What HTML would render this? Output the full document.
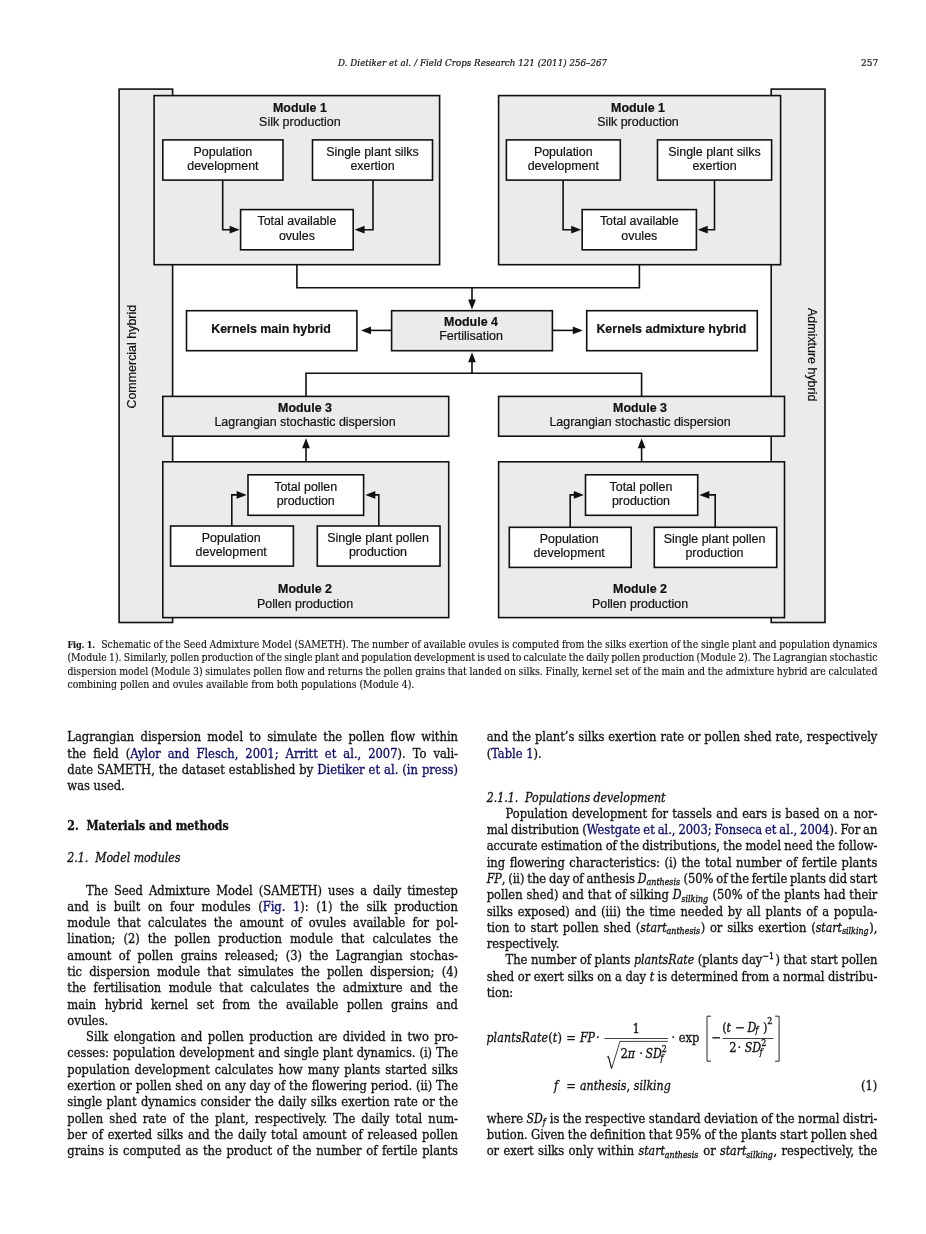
<!DOCTYPE html>
<html lang="en"><head><meta charset="utf-8"><title>Field Crops Research 121 (2011) 256-267, page 257</title>
<style>
html,body{margin:0;padding:0;background:#fff;}
body{will-change:transform;width:926px;height:1234px;position:relative;overflow:hidden;font-family:"DejaVu Serif Condensed","Liberation Serif",serif;color:#111;-webkit-text-stroke-width:0.3px;}
.l{position:absolute;white-space:nowrap;font-size:12.8px;line-height:16px;height:16px;}
.j{text-align:justify;text-align-last:justify;}
.c{-webkit-text-stroke-width:0.12px;position:absolute;white-space:nowrap;font-size:10.4px;line-height:13px;height:13px;left:67.4px;width:810px;}
.h{-webkit-text-stroke-width:0.2px;position:absolute;white-space:nowrap;font-size:10.15px;line-height:12px;height:12px;}
a{color:#0c0c6e;text-decoration:none;}
.fg{display:inline-block;width:33.8px;font-size:9.1px;letter-spacing:-0.15px;text-align:left;text-align-last:left;}
i{font-style:italic;font-size:95.5%;}
sub{font-size:72%;vertical-align:-0.28em;line-height:0;margin-right:0.6px;}
sup{font-size:70%;vertical-align:0.58em;line-height:0;margin-right:1.2px;}
svg{position:absolute;left:0;top:0;}
svg text{font-family:"Liberation Sans","DejaVu Sans",sans-serif;font-size:12.45px;fill:#111;text-anchor:middle;stroke:#111;stroke-width:0.2px;}
svg .b{font-weight:bold;}
.eq{position:absolute;white-space:nowrap;font-size:12.8px;line-height:16px;height:16px;}
</style></head><body>
<div class="h" style="left:338.1px;top:56.90px;width:269px;text-align:justify;text-align-last:justify;"><i>D. Dietiker et al. / Field Crops Research 121 (2011) 256–267</i></div>
<div class="h" style="left:860.6px;top:56.90px;width:17.6px;text-align:right;font-size:10px;">257</div>
<svg width="926" height="640" viewBox="0 0 926 640">
<g fill="#ebebeb" stroke="#111111" stroke-width="1.6">
<rect x="119.1" y="89.1" width="53.5" height="533.4"/>
<rect x="771.2" y="89.1" width="53.8" height="533.4"/>
<rect x="154.1" y="95.6" width="285.5" height="169.1"/>
<rect x="498.6" y="95.6" width="282.0" height="169.1"/>
<rect x="391.6" y="310.7" width="160.8" height="40.0"/>
<rect x="162.8" y="396.4" width="285.9" height="39.8"/>
<rect x="498.6" y="396.4" width="285.9" height="39.8"/>
<rect x="162.8" y="461.8" width="285.9" height="155.8"/>
<rect x="498.6" y="461.8" width="285.9" height="155.8"/>
<rect x="162.8" y="139.9" width="120.2" height="40.2" fill="#ffffff"/>
<rect x="312.5" y="139.9" width="120.0" height="40.2" fill="#ffffff"/>
<rect x="240.6" y="209.6" width="112.6" height="40.2" fill="#ffffff"/>
<rect x="506.4" y="139.9" width="113.9" height="40.2" fill="#ffffff"/>
<rect x="657.5" y="139.9" width="114.1" height="40.2" fill="#ffffff"/>
<rect x="582.2" y="209.6" width="114.2" height="40.2" fill="#ffffff"/>
<rect x="186.5" y="310.7" width="170.4" height="40.0" fill="#ffffff"/>
<rect x="586.7" y="310.7" width="170.6" height="40.0" fill="#ffffff"/>
<rect x="248.0" y="474.8" width="115.6" height="40.5" fill="#ffffff"/>
<rect x="170.6" y="526.0" width="122.8" height="40.1" fill="#ffffff"/>
<rect x="317.3" y="526.0" width="122.7" height="40.1" fill="#ffffff"/>
<rect x="585.5" y="474.8" width="112.2" height="40.5" fill="#ffffff"/>
<rect x="509.3" y="527.3" width="121.9" height="40.1" fill="#ffffff"/>
<rect x="654.3" y="527.3" width="122.4" height="40.1" fill="#ffffff"/>
</g>
<g fill="none" stroke="#111111" stroke-width="1.6">
<polyline points="296.9,264.7 296.9,287.7 639.4,287.7 639.4,264.7"/>
<polyline points="472.0,287.7 472.0,302.0"/>
<polyline points="306.0,396.4 306.0,373.3 641.6,373.3 641.6,396.4"/>
<polyline points="472.0,373.3 472.0,360.0"/>
<polyline points="391.6,330.4 369.0,330.4"/>
<polyline points="552.4,330.4 575.0,330.4"/>
<polyline points="306.0,461.8 306.0,446.0"/>
<polyline points="641.6,461.8 641.6,446.0"/>
<polyline points="222.7,180.1 222.7,229.7 232.0,229.7"/>
<polyline points="373.0,180.1 373.0,229.7 362.0,229.7"/>
<polyline points="563.1,180.1 563.1,229.7 573.0,229.7"/>
<polyline points="714.5,180.1 714.5,229.7 705.0,229.7"/>
<polyline points="231.8,526.0 231.8,494.9 239.0,494.9"/>
<polyline points="378.8,526.0 378.8,494.9 373.0,494.9"/>
<polyline points="570.2,527.3 570.2,494.9 576.0,494.9"/>
<polyline points="715.2,527.3 715.2,494.9 707.0,494.9"/>
</g>
<g fill="#111111" stroke="none">
<polygon points="472.0,309.4 468.1,299.4 475.9,299.4"/>
<polygon points="472.0,352.3 468.1,362.3 475.9,362.3"/>
<polygon points="361.0,330.4 371.0,326.5 371.0,334.2"/>
<polygon points="582.8,330.4 572.8,326.5 572.8,334.2"/>
<polygon points="306.0,438.2 302.1,448.2 309.9,448.2"/>
<polygon points="641.6,438.2 637.8,448.2 645.5,448.2"/>
<polygon points="239.6,229.7 229.6,225.8 229.6,233.5"/>
<polygon points="354.6,229.7 364.6,225.8 364.6,233.5"/>
<polygon points="581.2,229.7 571.2,225.8 571.2,233.5"/>
<polygon points="697.7,229.7 707.7,225.8 707.7,233.5"/>
<polygon points="246.7,494.9 236.7,491.0 236.7,498.8"/>
<polygon points="365.3,494.9 375.3,491.0 375.3,498.8"/>
<polygon points="583.8,494.9 573.8,491.0 573.8,498.8"/>
<polygon points="699.3,494.9 709.3,491.0 709.3,498.8"/>
</g>
<text x="299.9" y="112.05" class="b">Module 1</text>
<text x="299.9" y="126.05">Silk production</text>
<text x="638.0" y="112.05" class="b">Module 1</text>
<text x="638.0" y="126.05">Silk production</text>
<text x="222.9" y="155.85">Population</text>
<text x="222.9" y="170.05">development</text>
<text x="372.5" y="155.85">Single plant silks</text>
<text x="372.5" y="170.05">exertion</text>
<text x="296.9" y="225.45">Total available</text>
<text x="296.9" y="239.75">ovules</text>
<text x="563.3" y="155.85">Population</text>
<text x="563.3" y="170.05">development</text>
<text x="714.5" y="155.85">Single plant silks</text>
<text x="714.5" y="170.05">exertion</text>
<text x="639.3" y="225.45">Total available</text>
<text x="639.3" y="239.75">ovules</text>
<text x="271.0" y="333.35" class="b">Kernels main hybrid</text>
<text x="471.0" y="325.95" class="b">Module 4</text>
<text x="471.0" y="340.15">Fertilisation</text>
<text x="671.4" y="333.35" class="b">Kernels admixture hybrid</text>
<text x="305.0" y="411.95" class="b">Module 3</text>
<text x="305.0" y="426.25">Lagrangian stochastic dispersion</text>
<text x="640.0" y="411.95" class="b">Module 3</text>
<text x="640.0" y="426.25">Lagrangian stochastic dispersion</text>
<text x="305.7" y="490.65">Total pollen</text>
<text x="305.7" y="504.95">production</text>
<text x="231.2" y="541.85">Population</text>
<text x="231.2" y="556.15">development</text>
<text x="378.0" y="541.85">Single plant pollen</text>
<text x="378.0" y="556.15">production</text>
<text x="641.0" y="490.65">Total pollen</text>
<text x="641.0" y="504.95">production</text>
<text x="569.2" y="543.15">Population</text>
<text x="569.2" y="557.45">development</text>
<text x="714.5" y="543.15">Single plant pollen</text>
<text x="714.5" y="557.45">production</text>
<text x="305.0" y="593.35" class="b">Module 2</text>
<text x="305.0" y="607.65">Pollen production</text>
<text x="640.0" y="593.35" class="b">Module 2</text>
<text x="640.0" y="607.65">Pollen production</text>
<text transform="translate(136.0,356.7) rotate(-90)">Commercial hybrid</text>
<text transform="translate(807.5,354.7) rotate(90)">Admixture hybrid</text>
</svg>
<div class="c j" id="kc_647_7" style="top:637.70px;word-spacing:-0.25px;"><b class="fg">Fig. 1.</b>Schematic of the Seed Admixture Model (SAMETH). The number of available ovules is computed from the silks exertion of the single plant and population dynamics</div>
<div class="c j" id="kc_661_3" style="top:651.30px;word-spacing:-0.78px;">(Module 1). Similarly, pollen production of the single plant and population development is used to calculate the daily pollen production (Module 2). The Lagrangian stochastic</div>
<div class="c j" id="kc_674_7" style="top:664.70px;word-spacing:-0.34px;">dispersion model (Module 3) simulates pollen flow and returns the pollen grains that landed on silks. Finally, kernel set of the main and the admixture hybrid are calculated</div>
<div class="c" id="kc_687_9" style="top:677.90px;width:auto;">combining pollen and ovules available from both populations (Module 4).</div>
<div class="l j" id="k67_741_3" style="left:67.3px;top:729.30px;width:390.7px;">Lagrangian dispersion model to simulate the pollen flow within</div>
<div class="l j" id="k67_757_5" style="left:67.3px;top:745.50px;width:390.7px;">the field (<a>Aylor and Flesch, 2001; Arritt et al., 2007</a>). To vali-</div>
<div class="l j" id="k67_773_8" style="left:67.3px;top:761.80px;width:390.7px;">date SAMETH, the dataset established by <a>Dietiker et al. (in press)</a></div>
<div class="l" id="k67_790_0" style="left:67.3px;top:778.00px;">was used.</div>
<div class="l" id="k67_829_8" style="left:67.3px;top:817.80px;font-size:12.23px;"><b>2.&nbsp;&nbsp;Materials and methods</b></div>
<div class="l" id="k67_862_3" style="left:67.3px;top:850.30px;font-size:12.8px;"><i>2.1.&nbsp;&nbsp;Model modules</i></div>
<div class="l j" id="k67_894_6" style="left:86.1px;top:882.60px;width:371.9px;">The Seed Admixture Model (SAMETH) uses a daily timestep</div>
<div class="l j" id="k67_910_9" style="left:67.3px;top:898.90px;width:390.7px;">and is built on four modules (<a>Fig. 1</a>): (1) the silk production</div>
<div class="l j" id="k67_927_2" style="left:67.3px;top:915.20px;width:390.7px;">module that calculates the amount of ovules available for pol-</div>
<div class="l j" id="k67_943_4" style="left:67.3px;top:931.40px;width:390.7px;">lination; (2) the pollen production module that calculates the</div>
<div class="l j" id="k67_959_7" style="left:67.3px;top:947.70px;width:390.7px;">amount of pollen grains released; (3) the Lagrangian stochas-</div>
<div class="l j" id="k67_976_0" style="left:67.3px;top:964.00px;width:390.7px;">tic dispersion module that simulates the pollen dispersion; (4)</div>
<div class="l j" id="k67_992_3" style="left:67.3px;top:980.30px;width:390.7px;">the fertilisation module that calculates the admixture and the</div>
<div class="l j" id="k67_1008_6" style="left:67.3px;top:996.60px;width:390.7px;">main hybrid kernel set from the available pollen grains and</div>
<div class="l" id="k67_1024_8" style="left:67.3px;top:1012.80px;">ovules.</div>
<div class="l j" id="k67_1041_1" style="left:86.1px;top:1029.10px;width:371.9px;">Silk elongation and pollen production are divided in two pro-</div>
<div class="l j" id="k67_1057_4" style="left:67.3px;top:1045.40px;width:390.7px;">cesses: population development and single plant dynamics. (i) The</div>
<div class="l j" id="k67_1073_7" style="left:67.3px;top:1061.70px;width:390.7px;">population development calculates how many plants started silks</div>
<div class="l j" id="k67_1090_0" style="left:67.3px;top:1078.00px;width:390.7px;">exertion or pollen shed on any day of the flowering period. (ii) The</div>
<div class="l j" id="k67_1106_2" style="left:67.3px;top:1094.20px;width:390.7px;">single plant dynamics consider the daily silks exertion rate or the</div>
<div class="l j" id="k67_1122_5" style="left:67.3px;top:1110.50px;width:390.7px;">pollen shed rate of the plant, respectively. The daily total num-</div>
<div class="l j" id="k67_1138_8" style="left:67.3px;top:1126.80px;width:390.7px;">ber of exerted silks and the daily total amount of released pollen</div>
<div class="l j" id="k67_1155_1" style="left:67.3px;top:1143.10px;width:390.7px;">grains is computed as the product of the number of fertile plants</div>
<div class="l j" id="k487_741_3" style="left:486.7px;top:729.30px;width:390.7px;">and the plant’s silks exertion rate or pollen shed rate, respectively</div>
<div class="l" id="k487_757_5" style="left:486.7px;top:745.50px;">(<a>Table 1</a>).</div>
<div class="l" id="k487_801_5" style="left:486.7px;top:789.50px;font-size:12.8px;"><i>2.1.1.&nbsp;&nbsp;Populations development</i></div>
<div class="l j" id="k487_817_8" style="left:505.5px;top:805.80px;width:371.9px;">Population development for tassels and ears is based on a nor-</div>
<div class="l j" id="k487_834_1" style="left:486.7px;top:822.10px;width:390.7px;word-spacing:-0.85px;">mal distribution (<a>Westgate et al., 2003; Fonseca et al., 2004</a>). For an</div>
<div class="l j" id="k487_850_3" style="left:486.7px;top:838.30px;width:390.7px;word-spacing:-0.50px;">accurate estimation of the distributions, the model need the follow-</div>
<div class="l j" id="k487_866_6" style="left:486.7px;top:854.60px;width:390.7px;">ing flowering characteristics: (i) the total number of fertile plants</div>
<div class="l j" id="k487_882_9" style="left:486.7px;top:870.90px;width:390.7px;word-spacing:-0.95px;"><i>FP</i>, (ii) the day of anthesis <i>D<sub>anthesis</sub></i> (50% of the fertile plants did start</div>
<div class="l j" id="k487_899_2" style="left:486.7px;top:887.20px;width:390.7px;">pollen shed) and that of silking <i>D<sub>silking</sub></i> (50% of the plants had their</div>
<div class="l j" id="k487_915_5" style="left:486.7px;top:903.50px;width:390.7px;">silks exposed) and (iii) the time needed by all plants of a popula-</div>
<div class="l j" id="k487_931_7" style="left:486.7px;top:919.70px;width:390.7px;">tion to start pollen shed (<i>start<sub>anthesis</sub></i>) or silks exertion (<i>start<sub>silking</sub></i>),</div>
<div class="l" id="k487_948_0" style="left:486.7px;top:936.00px;">respectively.</div>
<div class="l j" id="k487_964_3" style="left:505.5px;top:952.30px;width:371.9px;word-spacing:-0.25px;">The number of plants <i>plantsRate</i> (plants day<sup>−1</sup>) that start pollen</div>
<div class="l j" id="k487_980_6" style="left:486.7px;top:968.60px;width:390.7px;word-spacing:-0.20px;">shed or exert silks on a day <i>t</i> is determined from a normal distribu-</div>
<div class="l" id="k487_996_9" style="left:486.7px;top:984.90px;">tion:</div>
<div class="l j" id="k487_1122_8" style="left:486.7px;top:1110.80px;width:390.7px;word-spacing:-0.38px;">where <i>SD<sub>f</sub></i> is the respective standard deviation of the normal distri-</div>
<div class="l j" id="k487_1139_0" style="left:486.7px;top:1127.00px;width:390.7px;word-spacing:-0.51px;">bution. Given the definition that 95% of the plants start pollen shed</div>
<div class="l j" id="k487_1155_3" style="left:486.7px;top:1143.30px;width:390.7px;">or exert silks only within <i>start<sub>anthesis</sub></i> or <i>start<sub>silking</sub></i>, respectively, the</div>
<span class="eq" style="left:486.4px;top:1030.00px;letter-spacing:0.15px;"><i>plantsRate</i>(<i>t</i>)</span>
<span class="eq" style="left:566.2px;top:1030.00px;">=</span>
<span class="eq" style="left:580.0px;top:1030.00px;"><i>FP</i></span>
<span class="eq" style="left:596.0px;top:1030.00px;">·</span>
<span class="eq" style="left:632.6px;top:1021.00px;">1</span>
<span class="eq" style="left:620.4px;top:1045.70px;">2<i>π</i></span>
<span class="eq" style="left:639.3px;top:1045.70px;">·</span>
<span class="eq" style="left:645.6px;top:1045.70px;"><i>SD</i></span>
<span class="eq" style="left:661.7px;top:1041.40px;font-size:8.8px;">2</span>
<span class="eq" style="left:660.6px;top:1050.00px;font-size:8.8px;"><i>f</i></span>
<span class="eq" style="left:671.5px;top:1030.00px;">·</span>
<span class="eq" style="left:678.8px;top:1030.00px;">exp</span>
<span class="eq" style="left:711.4px;top:1030.00px;">−</span>
<span class="eq" style="left:722.2px;top:1019.60px;">(</span>
<span class="eq" style="left:726.4px;top:1019.60px;"><i>t</i></span>
<span class="eq" style="left:735.3px;top:1019.60px;">−</span>
<span class="eq" style="left:747.4px;top:1019.60px;"><i>D</i></span>
<span class="eq" style="left:755.6px;top:1021.80px;font-size:8.8px;"><i>f</i></span>
<span class="eq" style="left:762.9px;top:1019.60px;">)</span>
<span class="eq" style="left:767.2px;top:1013.00px;font-size:8.8px;">2</span>
<span class="eq" style="left:729.2px;top:1040.00px;">2</span>
<span class="eq" style="left:737.5px;top:1040.00px;">·</span>
<span class="eq" style="left:744.8px;top:1040.00px;"><i>SD</i></span>
<span class="eq" style="left:761.2px;top:1035.40px;font-size:8.8px;">2</span>
<span class="eq" style="left:759.8px;top:1044.00px;font-size:8.8px;"><i>f</i></span>
<span class="eq" style="left:554.1px;top:1078.10px;"><i>f</i></span>
<span class="eq" style="left:566.2px;top:1078.10px;">=</span>
<span class="eq" style="left:580.0px;top:1078.10px;"><i>anthesis</i>, <i>silking</i></span>
<span class="eq" style="left:860.0px;top:1078.10px;width:17.3px;text-align:right;">(1)</span>
<svg width="926" height="1234" viewBox="0 0 926 1234" style="pointer-events:none"><g fill="none" stroke="#111" stroke-width="0.8"><line x1="604.5" y1="1038.5" x2="668.1" y2="1038.5"/><line x1="722.5" y1="1038.5" x2="773.4" y2="1038.5"/><polyline points="606.6,1057.6 608.4,1056.3"/><polyline points="608.4,1056.3 611.6,1068.4" stroke-width="1.2"/><polyline points="611.6,1068.8 620.0,1041.4 667.9,1041.4"/><polyline points="711.0,1016.2 707.0,1016.2 707.0,1061.2 711.0,1061.2" stroke-width="0.9"/><polyline points="775.1,1016.2 779.1,1016.2 779.1,1061.2 775.1,1061.2" stroke-width="0.9"/></g></svg>

</body></html>
